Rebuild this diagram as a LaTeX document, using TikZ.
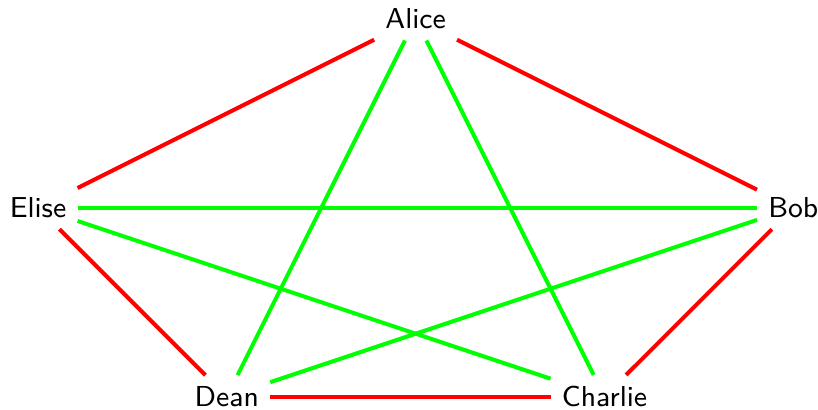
\documentclass[tikz,border=0pt]{standalone}
\begin{document}
\begin{tikzpicture}[font=\sffamily\fontsize{8.7}{10.4}\selectfont,
  person/.style={inner sep=3.2pt},
  foe/.style={draw=red, line width=1.2pt},
  friend/.style={draw=green, line width=1.2pt}]
\useasboundingbox (-4.403,-2.138) rectangle (4.262,2.201);
\node[person] (A) at (0,2) {Alice};
\node[person] (B) at (4,0) {Bob};
\node[person] (C) at (2,-2) {Charlie};
\node[person] (D) at (-2,-2) {Dean};
\node[person] (E) at (-4,0) {Elise};
\draw[foe] (A) -- (B);
\draw[foe] (B) -- (C);
\draw[foe] (C) -- (D);
\draw[foe] (D) -- (E);
\draw[foe] (E) -- (A);
\draw[friend] (A) -- (C);
\draw[friend] (A) -- (D);
\draw[friend] (E) -- (B);
\draw[friend] (E) -- (C);
\draw[friend] (B) -- (D);
\end{tikzpicture}
\end{document}
